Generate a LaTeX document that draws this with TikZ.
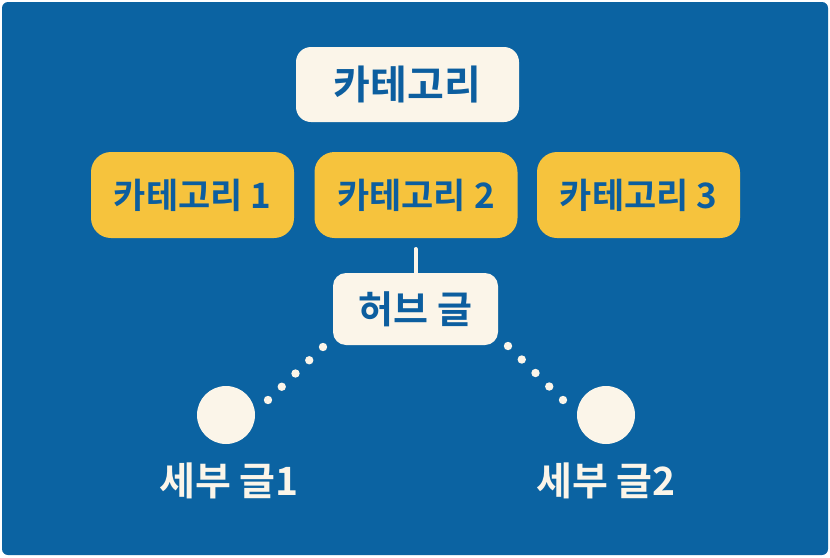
\documentclass[tikz,border=0pt]{standalone}
\usepackage{fontspec}
\newfontfamily\kr{Noto Sans CJK KR}[BoldFont={Noto Sans CJK KR Bold}]
\usetikzlibrary{calc}
\definecolor{bgblue}{HTML}{0B63A2}
\definecolor{cream}{HTML}{FBF5E9}
\definecolor{gold}{HTML}{F6C33D}
\definecolor{txtblue}{HTML}{0C5E9F}
\tikzset{
  topbox/.style={fill=cream, rounded corners=15pt, minimum width=223pt, minimum height=75pt, inner sep=0pt, text=txtblue, font=\kr\bfseries\fontsize{40}{44}\selectfont},
  catbox/.style={fill=gold, rounded corners=20pt, minimum width=203pt, minimum height=86pt, inner sep=0pt, text=txtblue, font=\kr\bfseries\fontsize{35}{40}\selectfont},
  hubbox/.style={fill=cream, rounded corners=13pt, minimum width=165pt, minimum height=72pt, inner sep=0pt, text=txtblue, font=\kr\bfseries\fontsize{38}{42}\selectfont},
  leaf/.style={circle, fill=cream, minimum size=58pt, inner sep=0pt},
  leaflabel/.style={text=cream, inner sep=0pt, font=\kr\bfseries\fontsize{39}{42}\selectfont},
  stem/.style={draw=cream, line width=4pt, line cap=round},
}
\begin{document}
\begin{tikzpicture}[x=1pt,y=-1pt]
\useasboundingbox (0,0) rectangle (830,557);
\fill[white] (0,0) rectangle (830,557);
\fill[bgblue, rounded corners=6pt] (2,2) rectangle (828,555);
\node[topbox] (top) at (407.5,84.5) {카테고리};
\node[catbox] (c1) at (192.5,195) {카테고리 1};
\node[catbox] (c2) at (416,195) {카테고리 2};
\node[catbox] (c3) at (638.5,195) {카테고리 3};
\node[hubbox] (hub) at (415.5,309) {허브 글};
\coordinate (stemtop) at (415.5,249);
\draw[stem] (stemtop) -- (hub.north);
\node[leaf] (d1) at (226,415) {};
\node[leaf] (d2) at (606,415) {};
\node[leaflabel] (l1) at (229,481) {세부 글1};
\node[leaflabel] (l2) at (606,481) {세부 글2};
\coordinate (a1) at (323,347);
\coordinate (b1) at (268,400);
\coordinate (a2) at (508,346);
\coordinate (b2) at (563,400);
\foreach \t in {0,0.25,0.5,0.75,1}{
  \fill[cream] ($(a1)!\t!(b1)$) circle (4.2);
  \fill[cream] ($(a2)!\t!(b2)$) circle (4.2);
}
\end{tikzpicture}
\end{document}
